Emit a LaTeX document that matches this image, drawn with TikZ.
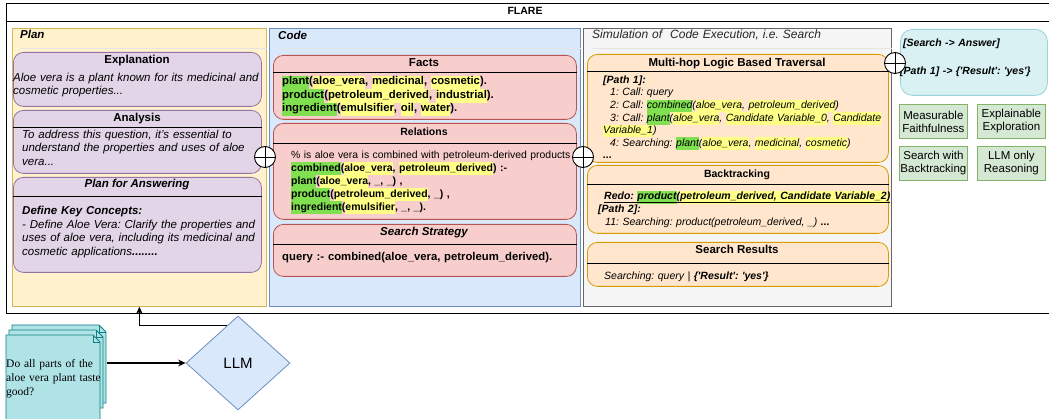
\documentclass[tikz,border=0pt]{standalone}
\usepackage{fontspec}
\setmainfont{Liberation Sans}
\newfontfamily\serifq{Liberation Serif}
\usepackage{xcolor}
\usepackage{tikz}
\usetikzlibrary{arrows.meta, shapes.geometric, calc}
\frenchspacing
\definecolor{planfill}{HTML}{FFF2CC}
\definecolor{planedge}{HTML}{D6B656}
\definecolor{codefill}{HTML}{DAE8FC}
\definecolor{codeedge}{HTML}{6C8EBF}
\definecolor{simfill}{HTML}{F5F5F5}
\definecolor{simedge}{HTML}{666666}
\definecolor{purfill}{HTML}{E1D5E7}
\definecolor{puredge}{HTML}{9673A6}
\definecolor{redfill}{HTML}{F8CECC}
\definecolor{rededge}{HTML}{B85450}
\definecolor{orafill}{HTML}{FFE6CC}
\definecolor{oraedge}{HTML}{D79B00}
\definecolor{grnfill}{HTML}{D5E8D4}
\definecolor{grnedge}{HTML}{82B366}
\definecolor{docfill}{HTML}{B0E3E6}
\definecolor{docedge}{HTML}{0E8088}
\definecolor{ansfill}{HTML}{DAF1F3}
\definecolor{ansedge}{HTML}{9AD3D9}
\definecolor{hlgreen}{HTML}{80E050}
\definecolor{hlyellow}{HTML}{FFFF88}
\newcommand{\hlg}[1]{{\setlength{\fboxsep}{0pt}\colorbox{hlgreen}{\strut#1}}}
\newcommand{\hly}[1]{{\setlength{\fboxsep}{0pt}\colorbox{hlyellow}{\strut#1}}}
\newcommand{\undl}[1]{\setbox0\hbox{#1}\copy0\llap{\rule[-2.4pt]{\wd0}{0.8pt}}}
\newcommand{\squote}{\textquotesingle}
\tikzstyle{lane}=[draw, rectangle, anchor=north west, inner sep=0pt, line width=0.8pt]
\tikzstyle{card}=[draw, rectangle, rounded corners=10pt, anchor=north west, inner sep=0pt, line width=0.8pt]
\tikzstyle{head}=[inner sep=0pt, anchor=base, font=\fontsize{11.5}{13.5}\selectfont\bfseries]
\tikzstyle{headit}=[head, font=\fontsize{11.5}{13.5}\selectfont\bfseries\itshape]
\tikzstyle{body}=[inner sep=0pt, anchor=base west, align=left, text width=300pt]
\tikzstyle{plantext}=[body, font=\fontsize{11.5}{13.5}\selectfont\itshape]
\tikzstyle{codetext}=[body, font=\fontsize{11.3}{13.5}\selectfont\bfseries]
\tikzstyle{simtext}=[body, font=\fontsize{10.5}{12.6}\selectfont\itshape]
\tikzstyle{feat}=[draw=grnedge, fill=grnfill, rectangle, inner sep=0pt, anchor=north west, minimum width=68pt, minimum height=34pt, align=center, line width=0.8pt, font=\fontsize{11.5}{13}\selectfont]
\tikzstyle{joint}=[draw, circle, fill=white, inner sep=0pt, minimum size=21pt, line width=0.9pt]
\tikzstyle{llm}=[diamond, draw=codeedge, fill=codefill, minimum width=104pt, minimum height=94pt, inner sep=0pt, line width=0.8pt, font=\fontsize{15}{18}\selectfont]
\tikzstyle{docpage}=[draw=docedge, fill=docfill, line width=0.8pt]
\tikzstyle{feed}=[line width=1.4pt, -{Stealth[length=2.6mm, width=2.4mm]}]

\begin{document}
\begin{tikzpicture}[x=1pt, y=-1pt, font=\fontsize{11.5}{13.5}\selectfont]
    \useasboundingbox (0,0) rectangle (1049,419);
    \node[lane, fill=white, line width=1pt, minimum width=1050pt, minimum height=310pt] (flare) at (6,3) {};
    \draw[line width=1pt] (flare.west |- 0,22) -- (flare.east |- 0,22);
    \node[head, font=\fontsize{10.5}{12}\selectfont\bfseries] (flaret) at (525,15) {FLARE};

    \node[lane, draw=planedge, fill=planfill, minimum width=254pt, minimum height=278pt] (plan) at (12,28) {};
    \node[lane, draw=codeedge, fill=codefill, minimum width=311pt, minimum height=278pt] (code) at (269,28) {};
    \node[lane, draw=simedge, fill=simfill, minimum width=308pt, minimum height=278pt] (sim) at (583,28) {};
    \foreach \l/\x in {plan/20, code/278, sim/592} \draw[black!10] (\x,48) -- (\l.east |- 0,48);
    \node[body, font=\fontsize{11.5}{13.5}\selectfont\bfseries\itshape] (plantitle) at (20,39) {Plan};
    \node[body, font=\fontsize{11.5}{13.5}\selectfont\bfseries\itshape] (codetitle) at (278,40) {Code};
    \node[body, font=\fontsize{12}{14}\selectfont\itshape, text=black!85] (simtitle) at (592,39) {Simulation of\ \ Code Execution, i.e. Search};

    % plan
    \node[card, draw=puredge, fill=purfill, minimum width=248pt, minimum height=54pt] (expl) at (13,52) {};
    \node[card, draw=puredge, fill=purfill, minimum width=248pt, minimum height=63pt] (anal) at (13,110) {};
    \node[card, draw=puredge, fill=purfill, minimum width=248pt, minimum height=95pt] (answ) at (13,177) {};
    \draw[line width=0.8pt] (anal.west |- 0,127) -- (anal.east |- 0,127);
    \draw[line width=0.8pt] (answ.west |- 0,196) -- (answ.east |- 0,196);
    \node[head] (explh) at (137,64) {Explanation};
    \node[head] (analh) at (137,122) {Analysis};
    \node[headit] (answh) at (137,188) {Plan for Answering};
    \node[plantext] (explt) at (13,81.5) {Aloe vera is a plant known for its medicinal and\\cosmetic properties...};
    \node[plantext] (analt) at (22,138.5) {To address this question, it's essential to\\understand the properties and uses of aloe\\vera...};
    \node[plantext] (answt) at (22,215) {\textbf{Define Key Concepts:}\\- Define Aloe Vera: Clarify the properties and\\uses of aloe vera, including its medicinal and\\cosmetic applications\textbf{........}};

    % code
    \node[card, draw=rededge, fill=redfill, minimum width=303pt, minimum height=64pt] (facts) at (273,55) {};
    \node[card, draw=rededge, fill=redfill, minimum width=303pt, minimum height=96pt] (rels) at (273,123) {};
    \node[card, draw=rededge, fill=redfill, minimum width=303pt, minimum height=52pt] (strat) at (273,224) {};
    \draw[line width=0.8pt] (facts.west |- 0,72) -- (facts.east |- 0,72);
    \draw[line width=0.8pt] (rels.west |- 0,143) -- (rels.east |- 0,143);
    \draw[line width=0.8pt] (strat.west |- 0,244) -- (strat.east |- 0,244);
    \node[head] (factsh) at (424,67) {Facts};
    \node[head, font=\fontsize{10.5}{12}\selectfont\bfseries] (relsh) at (424,136) {Relations};
    \node[headit] (strath) at (424,236) {Search Strategy};
    \node[codetext] (factst) at (282,85) {\hlg{plant}(\hly{aloe\_vera}, \hly{medicinal}, \hly{cosmetic}).\\\hlg{product}(\hly{petroleum\_derived}, \hly{industrial}).\\\hlg{ingredient}(\hly{emulsifier}, \hly{oil}, \hly{water}).};
    \node[body, font=\fontsize{10.4}{13}\selectfont] (relsc) at (291,158.5) {\% is aloe vera is combined with petroleum-derived products};
    \node[codetext, font=\fontsize{10.5}{13}\selectfont\bfseries] (relst) at (291,171.5) {\hlg{combined}(\hly{aloe\_vera}, \hly{petroleum\_derived}) :-\\\hlg{plant}(\hly{aloe\_vera}, \_, \_) ,\\\hlg{product}(\hly{petroleum\_derived}, \_) ,\\\hlg{ingredient}(\hly{emulsifier}, \_, \_).};
    \node[codetext] (stratt) at (282,261) {query :- combined(aloe\_vera, petroleum\_derived).};

    % simulation
    \node[card, draw=oraedge, fill=orafill, minimum width=301pt, minimum height=108pt] (hop) at (587,54) {};
    \node[card, draw=oraedge, fill=orafill, minimum width=301pt, minimum height=68pt] (back) at (587,165) {};
    \node[card, draw=oraedge, fill=orafill, minimum width=301pt, minimum height=44pt] (res) at (587,242) {};
    \draw[line width=0.8pt] (hop.west |- 0,71) -- (hop.east |- 0,71);
    \draw[line width=0.8pt] (back.west |- 0,184) -- (back.east |- 0,184);
    \draw[line width=0.8pt] (res.west |- 0,263) -- (res.east |- 0,263);
    \node[head] (hoph) at (737,67) {Multi-hop Logic Based Traversal};
    \node[head, font=\fontsize{10.5}{12}\selectfont\bfseries] (backh) at (737,178) {Backtracking};
    \node[head] (resh) at (737,254) {Search Results};
    \node[simtext] (hopt) at (603,83.3) {\textbf{[Path 1]:}\\
        \hspace*{7pt}1: Call: query\\
        \hspace*{7pt}2: Call: \hlg{combined}(\hly{aloe\_vera}, \hly{petroleum\_derived})\\
        \hspace*{7pt}3: Call: \hlg{plant}(\hly{aloe\_vera}, \hly{Candidate Variable\_0}, \hly{Candidate}\\
        \hly{Variable\_1})\\
        \hspace*{7pt}4: Searching: \hlg{plant}(\hly{aloe\_vera}, \hly{medicinal}, \hly{cosmetic})\\
        \textbf{...}};
    \node[simtext] (backt) at (604,200) {\textbf{\undl{Redo: \hlg{product}(\hly{petroleum\_derived, Candidate Variable\_2})}}\\
        \hspace*{-6pt}\textbf{[Path 2]:}\\
        \hspace*{1pt}11: Searching: product(petroleum\_derived, \_) \textbf{...}};
    \node[simtext] (rest) at (604,280) {Searching: query | \textbf{\{\squote Result\squote: \squote yes\squote\}}};

    % answer side
    \node[card, draw=ansedge, fill=ansfill, rounded corners=12pt, minimum width=147pt, minimum height=66pt] (ans) at (900,29) {};
    \node[body, font=\fontsize{10.5}{12.6}\selectfont\bfseries\itshape] (anst) at (903,47) {[Search -> Answer]};
    \node[body, font=\fontsize{10.5}{12.6}\selectfont\bfseries\itshape] (ansp) at (900,75) {[Path 1] -> \{\squote Result\squote: \squote yes\squote\}};
    \foreach \n/\x/\y/\t in {f1/899/104/{Measurable\\Faithfulness}, f2/977/104/{Explainable\\Exploration}, f3/899/146/{Search with\\Backtracking}, f4/977/146/{LLM only\\Reasoning}}
        \node[feat] (\n) at (\x,\y) {\t};

    \node[joint] (or1) at (265,157) {};
    \node[joint] (or2) at (583,157) {};
    \node[joint] (or3) at (895,63) {};
    \foreach \c in {or1,or2,or3} \draw[line width=0.9pt] (\c.north) -- (\c.south) (\c.west) -- (\c.east);

    % input
    \foreach \dx/\dy/\b in {6/10/403, 3/5/408, 0/0/425} {
        \draw[docpage] (6+\dx,335-\dy) -- (93+\dx,335-\dy) -- (100+\dx,342-\dy) -- (100+\dx,\b) -- (6+\dx,\b) -- cycle;
        \draw[docedge, line width=0.8pt] (93+\dx,335-\dy) -- (93+\dx,342-\dy) -- (100+\dx,342-\dy);
    }
    \node[body, font=\serifq\fontsize{11.5}{14}\selectfont] (question) at (6,367) {Do all parts of the\\aloe vera plant taste\\good?};
    \coordinate (stackR) at (107,363);
    \node[llm] (llm) at (238,363) {LLM};
    \draw[feed] (stackR) -- (llm.west);
    \draw[feed] ($(llm.west)!0.79!(llm.north)$) -| (plan.south);
\end{tikzpicture}
\end{document}
